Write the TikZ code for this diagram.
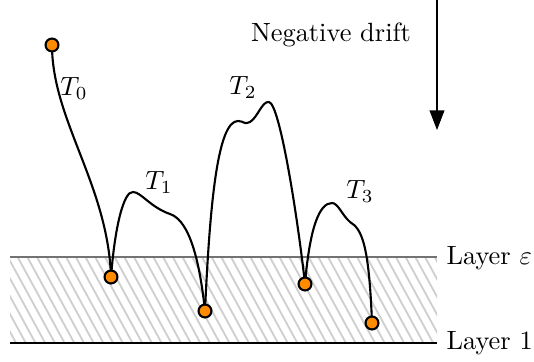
\documentclass[tikz,border=0pt]{standalone}
\usetikzlibrary{arrows.meta}
\definecolor{dotorange}{RGB}{255,140,0}
\begin{document}
\begin{tikzpicture}[x=0.379pt,y=-0.379pt,
  walk/.style={line width=0.8pt, black},
  dot/.style={circle, fill=dotorange, draw=black, line width=0.8pt, inner sep=0pt, minimum size=4.9pt},
  hatch/.style={gray!38, line width=0.7pt},
  layerline/.style={line width=0.6pt},
  lbl/.style={inner sep=0pt, font=\normalsize}]
\useasboundingbox (0,0) rectangle (534,361);
% hatched band
\begin{scope}
  \clip (10,257) rectangle (437,343);
  \foreach \x in {-60,-50.3,...,440} \draw[hatch] (\x,257) -- ++(47,86);
\end{scope}
\coordinate (l1a) at (10,257); \coordinate (l1b) at (437,257);
\coordinate (l2a) at (10,343); \coordinate (l2b) at (437,343);
\draw[layerline, black!55] (l1a) -- (l1b);
\draw[layerline, black] (l2a) -- (l2b);
\node[lbl, anchor=west] (le) at (446,258) {Layer $\varepsilon$};
\node[lbl, anchor=west] (l1) at (446,343) {Layer 1};
% points
\coordinate (c0) at (52,45);
\coordinate (c1) at (111,277);
\coordinate (c2) at (205,311);
\coordinate (c3) at (305,284);
\coordinate (c4) at (372,323);
% walks
\draw[walk] (c0) .. controls (52,120) and (108,185) .. (c1);
\draw[walk] (c1) .. controls (115,225) and (124,191) .. (133,192)
   .. controls (141,192) and (150,207) .. (170,214)
   .. controls (185,219) and (198,245) .. (c2);
\draw[walk] (c2) .. controls (210,200) and (218,121) .. (238,121)
   .. controls (244,121) and (244,125) .. (250,122)
   .. controls (258,117) and (262,101) .. (269,102)
   .. controls (280,104) and (298,220) .. (c3);
\draw[walk] (c3) .. controls (310,225) and (320,203) .. (332,203)
   .. controls (338,203) and (342,215) .. (350,222)
   .. controls (362,229) and (369,245) .. (c4);
\node[dot] (d0) at (c0) {};
\node[dot] (d1) at (c1) {};
\node[dot] (d2) at (c2) {};
\node[dot] (d3) at (c3) {};
\node[dot] (d4) at (c4) {};
% labels
\node[lbl] (t0) at (74,88) {$T_0$};
\node[lbl] (t1) at (159,182) {$T_1$};
\node[lbl] (t2) at (243,87) {$T_2$};
\node[lbl] (t3) at (360,191) {$T_3$};
% drift
\node[lbl] (nd) at (331,35) {Negative drift};
\coordinate (atop) at (437,0);
\coordinate (abot) at (437,130);
\draw[line width=0.4pt, -{Triangle[length=7.4pt,width=5.6pt]}] (atop) -- (abot);
\end{tikzpicture}
\end{document}
